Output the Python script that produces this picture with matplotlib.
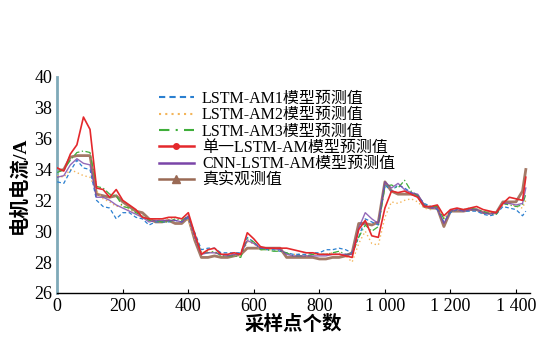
import numpy as np
import matplotlib
matplotlib.use('Agg')
from matplotlib import pyplot as plt
from matplotlib.lines import Line2D

# sample positions
x = list(range(0, 1440, 20)) + [1430]

true_val = [33.9, 34.0, 34.8, 34.9, 34.9, 34.9, 32.4, 32.3, 32.2, 32.3,
            31.9, 31.6, 31.3, 31.2, 30.8, 30.6, 30.6, 30.7, 30.5, 30.5,
            30.9, 29.4, 28.3, 28.3, 28.4, 28.3, 28.3, 28.4, 28.5, 28.9,
            28.9, 28.9, 28.9, 28.9, 28.9, 28.3, 28.3, 28.3, 28.3, 28.3,
            28.2, 28.2, 28.3, 28.3, 28.4, 28.6, 30.5, 30.5, 30.4, 30.6,
            33.2, 32.6, 32.4, 32.4, 32.4, 32.3, 31.6, 31.5, 31.5, 30.3,
            31.3, 31.3, 31.3, 31.4, 31.4, 31.2, 31.2, 31.2, 31.9, 31.9,
            31.9, 32.6, 34.0]

single_am = [34.1, 33.9, 35.0, 35.6, 37.4, 36.6, 32.8, 32.7, 32.2, 32.7,
             32.0, 31.7, 31.4, 30.9, 30.8, 30.8, 30.8, 30.9, 30.9, 30.8,
             31.2, 29.8, 28.5, 28.8, 28.9, 28.5, 28.5, 28.6, 28.5, 29.9,
             29.5, 29.0, 28.9, 28.9, 28.9, 28.9, 28.8, 28.7, 28.6, 28.6,
             28.5, 28.5, 28.5, 28.5, 28.4, 28.3, 30.1, 30.7, 29.7, 29.6,
             31.5, 32.6, 32.5, 32.6, 32.4, 32.2, 31.6, 31.6, 31.7, 31.0,
             31.4, 31.5, 31.4, 31.5, 31.6, 31.4, 31.3, 31.2, 31.8, 32.2,
             32.1, 32.0, 33.5]

am1 = [33.2, 33.1, 33.9, 34.6, 34.1, 34.0, 32.0, 31.6, 31.5, 30.8,
       31.2, 31.2, 30.9, 30.8, 30.4, 30.6, 30.6, 30.6, 30.7, 30.6,
       30.9, 29.9, 28.8, 28.9, 28.9, 28.6, 28.6, 28.6, 28.6, 29.6,
       29.3, 28.9, 28.8, 28.8, 28.7, 28.6, 28.5, 28.5, 28.5, 28.6,
       28.6, 28.8, 28.8, 28.9, 28.8, 28.6, 29.6, 30.8, 30.6, 30.4,
       33.0, 32.6, 33.0, 32.8, 32.5, 32.3, 31.8, 31.6, 31.4, 30.6,
       31.2, 31.4, 31.3, 31.3, 31.3, 31.1, 31.0, 31.1, 31.6, 31.5,
       31.4, 31.0, 31.3]

am2 = [33.6, 33.5, 34.0, 33.8, 33.6, 33.5, 32.6, 32.1, 31.9, 31.6,
       31.7, 31.4, 31.2, 30.9, 30.8, 30.8, 30.8, 30.8, 30.9, 30.8,
       30.7, 29.5, 28.6, 28.7, 28.6, 28.5, 28.4, 28.5, 28.4, 29.3,
       29.2, 28.8, 28.8, 28.8, 28.7, 28.6, 28.5, 28.5, 28.4, 28.5,
       28.5, 28.5, 28.6, 28.6, 28.4, 28.0, 29.2, 30.0, 29.2, 29.1,
       30.9, 31.9, 31.8, 32.0, 32.1, 31.9, 31.5, 31.4, 31.5, 30.8,
       31.3, 31.4, 31.3, 31.4, 31.4, 31.2, 31.2, 31.1, 31.7, 31.8,
       31.6, 31.5, 32.0]

am3 = [33.8, 34.0, 34.6, 35.1, 35.2, 35.1, 32.9, 32.8, 32.4, 32.3,
       31.6, 31.5, 31.2, 31.0, 30.7, 30.7, 30.6, 30.6, 30.8, 30.7,
       31.0, 29.8, 28.6, 28.6, 28.7, 28.4, 28.4, 28.4, 28.3, 29.5,
       29.3, 28.8, 28.8, 28.7, 28.7, 28.6, 28.4, 28.4, 28.4, 28.5,
       28.5, 28.5, 28.6, 28.7, 28.5, 28.5, 29.6, 30.4, 30.0, 30.3,
       32.9, 33.0, 32.8, 33.3, 32.6, 32.3, 31.7, 31.6, 31.6, 30.8,
       31.3, 31.4, 31.4, 31.5, 31.4, 31.3, 31.1, 31.1, 31.8, 31.7,
       31.6, 31.7, 32.4]

cnn_am = [33.5, 33.6, 34.3, 34.7, 34.4, 34.3, 32.2, 32.2, 32.0, 31.7,
          31.5, 31.3, 31.1, 30.9, 30.6, 30.7, 30.7, 30.7, 30.7, 30.6,
          31.0, 29.6, 28.5, 28.6, 28.6, 28.5, 28.4, 28.5, 28.5, 29.4,
          29.2, 28.9, 28.9, 28.9, 28.8, 28.5, 28.4, 28.4, 28.4, 28.4,
          28.4, 28.4, 28.5, 28.5, 28.5, 28.5, 30.2, 31.2, 30.8, 30.5,
          33.2, 32.8, 33.1, 32.7, 32.5, 32.4, 31.7, 31.5, 31.5, 30.5,
          31.3, 31.4, 31.3, 31.4, 31.4, 31.2, 31.1, 31.2, 31.8, 31.8,
          31.7, 31.8, 32.8]

labels = ['LSTM-AM1模型预测值', 'LSTM-AM2模型预测值', 'LSTM-AM3模型预测值',
          '单一LSTM-AM模型预测值', 'CNN-LSTM-AM模型预测值', '真实观测值']
xticks = [0, 200, 400, 600, 800, 1000, 1200, 1400]
xtick_labels = ['0', '200', '400', '600', '800', '1 000', '1 200', '1 400']
yticks = [26, 28, 30, 32, 34, 36, 38, 40]

fonts = ['Liberation Serif', 'Noto Sans CJK SC', 'DejaVu Sans']
plt.rcParams['font.family'] = fonts

c_blue = '#2a7fd0'
c_orange = '#f3b55a'
c_green = '#3fae3a'
c_red = '#e4282c'
c_purple = '#7a45a8'
c_brown = '#9a6a55'

fig = plt.figure(figsize=(5.4, 3.45), dpi=100)
ax = fig.add_axes([0.106, 0.151, 0.875, 0.626])

ax.plot(x, true_val, color=c_brown, lw=2.0, alpha=0.9, zorder=2)
ax.plot(x, am2, color=c_orange, lw=1.0, ls=(0, (1, 2)), zorder=3)
ax.plot(x, am1, color=c_blue, lw=0.9, ls=(0, (3, 2)), zorder=3)
ax.plot(x, am3, color=c_green, lw=0.9, ls=(0, (5, 2, 1, 2)), zorder=3)
ax.plot(x, cnn_am, color=c_purple, lw=1.0, alpha=0.8, zorder=3)
ax.plot(x, single_am, color=c_red, lw=1.2, zorder=4)

handles = [
    Line2D([], [], color=c_blue, lw=1.5, ls=(0, (3, 2))),
    Line2D([], [], color=c_orange, lw=1.5, ls=(0, (1, 2))),
    Line2D([], [], color=c_green, lw=1.5, ls=(0, (5, 3, 1, 3))),
    Line2D([], [], color=c_red, lw=1.8, marker='o', markersize=4),
    Line2D([], [], color=c_purple, lw=1.8),
    Line2D([], [], color=c_brown, lw=1.8, marker='^', markersize=6),
]
ax.legend(handles, labels, loc='upper left', bbox_to_anchor=(0.215, 0.935),
          frameon=False, fontsize=11.5, handlelength=2.2, handletextpad=0.5,
          labelspacing=0.02, borderaxespad=0, borderpad=0)

ax.set_xlim(0, 1442)
ax.set_ylim(26, 40)
ax.set_xticks(xticks)
ax.set_xticklabels(xtick_labels)
ax.set_yticks(yticks)
ax.tick_params(axis='both', direction='in', labelsize=13, length=3, width=0.8)
ax.tick_params(axis='y', length=0)
ax.spines['top'].set_visible(False)
ax.spines['right'].set_visible(False)
ax.spines['left'].set_color('#7fa9b8')
ax.spines['left'].set_linewidth(2.0)
ax.spines['bottom'].set_linewidth(1.0)

ax.set_xlabel('采样点个数', fontsize=14, fontweight='bold', labelpad=0)
ax.set_ylabel('电机电流/A', fontsize=14, fontweight='bold', labelpad=4)

fig.savefig('out.png', dpi=100)
